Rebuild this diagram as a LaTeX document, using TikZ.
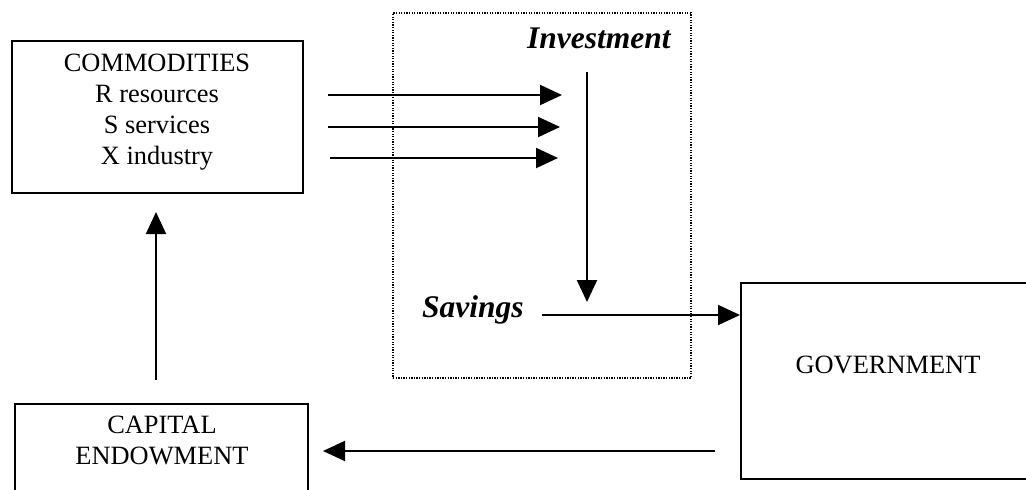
\documentclass[tikz,border=0pt]{standalone}
\usepackage{fontspec}
\setmainfont{Liberation Serif}
\usetikzlibrary{arrows.meta}
\begin{document}
\begin{tikzpicture}[x=1pt,y=-1pt,
  box/.style={draw, line width=2pt, rectangle, inner sep=0pt},
  zone/.style={draw, line width=1.4pt, dash pattern=on 1.3pt off 1.3pt, rectangle, inner sep=0pt},
  lbl/.style={font=\fontsize{26.4}{31}\selectfont, inner sep=0pt, anchor=base},
  flowlbl/.style={font=\fontsize{31.5}{36}\selectfont\bfseries\itshape, inner sep=0pt, anchor=base west},
  flow/.style={line width=2pt, -{Triangle[length=22pt,width=20pt]}},
]
\useasboundingbox (0,0) rectangle (1026,490);
\clip (0,0) rectangle (1026,490);

% boxes
\node[box, minimum width=291pt, minimum height=152pt] (comm) at (157.5,117) {};
\node[box, minimum width=292pt, minimum height=196pt] (gov) at (887,381) {};
\node[box, minimum width=293pt, minimum height=120pt] (cap) at (161.5,464) {};
\node[zone, minimum width=298pt, minimum height=365pt] (inv) at (542,195.5) {};

% labels
\node[lbl] (c1) at (157,71) {COMMODITIES};
\node[lbl] (c2) at (157,102) {R resources};
\node[lbl] (c3) at (157,133) {S services};
\node[lbl] (c4) at (157,164) {X industry};
\node[lbl] (govtext) at (888,373) {GOVERNMENT};
\node[lbl] (cap1) at (162,433) {CAPITAL};
\node[lbl] (cap2) at (162,464) {ENDOWMENT};
\node[flowlbl] (invtext) at (527,48) {Investment};
\node[flowlbl] (savtext) at (422,317) {Savings};

% connector end points
\coordinate (r1a) at (328,95);  \coordinate (r1b) at (562,95);
\coordinate (r2a) at (328,127); \coordinate (r2b) at (560,127);
\coordinate (r3a) at (330,158); \coordinate (r3b) at (558,158);
\coordinate (d1) at (587,72);   \coordinate (d2) at (587,302);
\coordinate (s1) at (542,315);
\coordinate (g1) at (715,451);  \coordinate (g2) at (323,451);
\coordinate (u1) at (156,380);  \coordinate (u2) at (156,212);

% flows
\draw[flow] (r1a) -- (r1b);
\draw[flow] (r2a) -- (r2b);
\draw[flow] (r3a) -- (r3b);
\draw[flow] (d1) -- (d2);
\draw[flow] (s1) -- (s1 -| gov.west);
\draw[flow] (g1) -- (g2);
\draw[flow] (u1) -- (u2);
\end{tikzpicture}
\end{document}
